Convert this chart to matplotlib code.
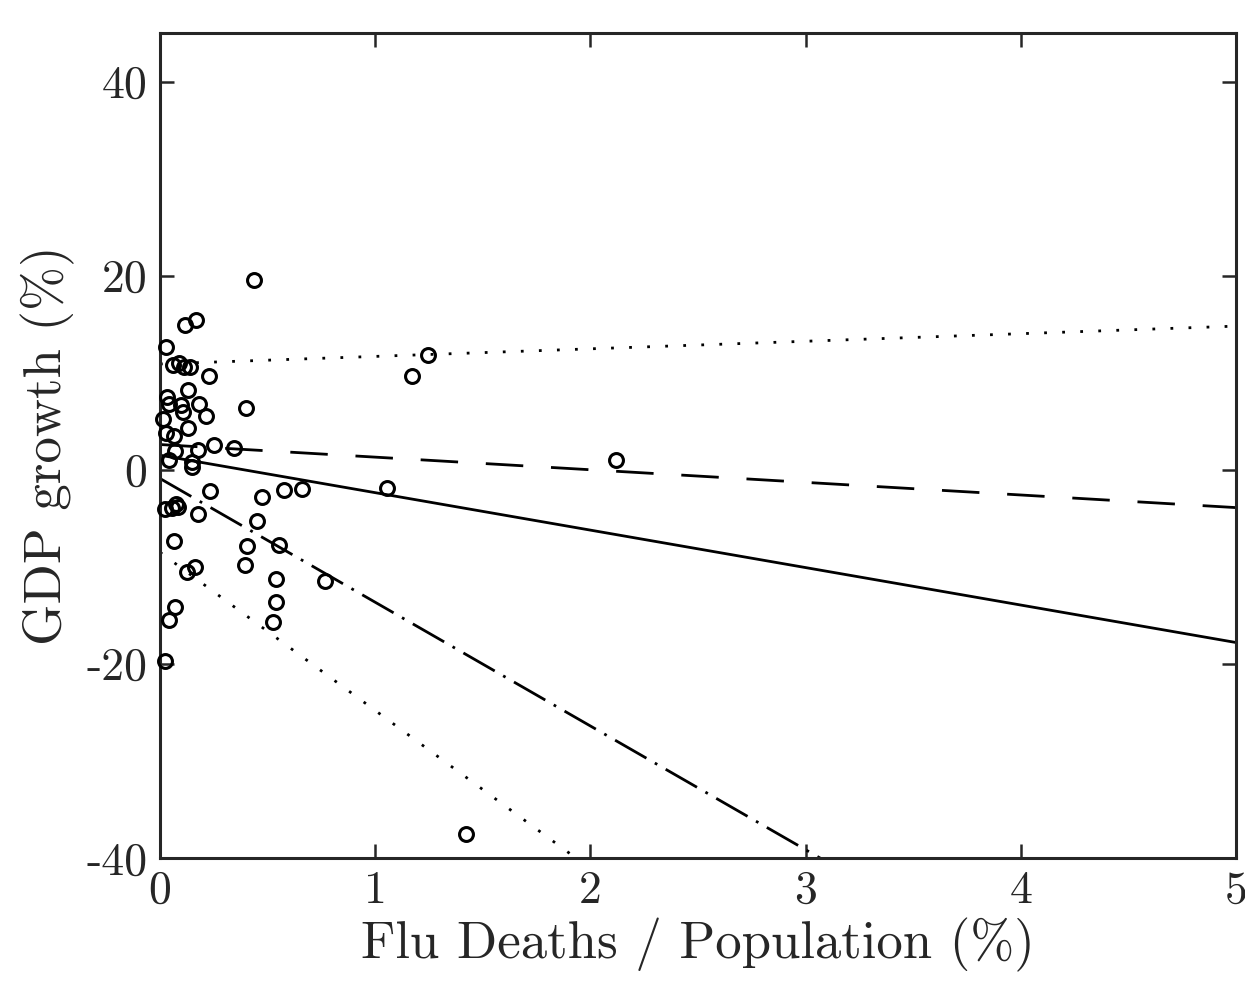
#!/usr/bin/env python

# Scatter of GDP growth against flu deaths with fitted lines

import numpy
import matplotlib
matplotlib.use('Agg')
import matplotlib.pyplot as plt

# Observations: flu deaths / population (%) and GDP growth (%)
deaths=[0.437,0.116,0.167,0.028,0.06,0.09,0.11,0.14,0.228,1.17,1.245,
        0.13,0.033,0.042,0.098,0.181,0.40,0.107,0.014,0.214,0.13,0.028,
        0.065,0.251,0.344,0.177,0.07,0.042,0.149,0.149,0.232,0.474,0.576,
        0.66,0.023,0.055,0.075,0.085,0.177,0.45,0.065,0.404,0.553,0.395,
        0.125,0.163,0.767,0.539,0.539,0.525,0.07,0.042,0.023,1.055,2.12,
        1.422]
growth=[19.5,14.9,15.4,12.6,10.8,11.0,10.6,10.6,9.7,9.7,11.8,
        8.2,7.5,6.8,6.7,6.8,6.4,6.0,5.2,5.5,4.3,3.8,
        3.5,2.5,2.2,2.0,1.9,1.0,0.8,0.3,-2.2,-2.8,-2.1,
        -2.0,-4.0,-3.9,-3.5,-3.8,-4.6,-5.3,-7.3,-7.9,-7.8,-9.8,
        -10.5,-10.0,-11.5,-11.3,-13.6,-15.7,-14.1,-15.5,-19.7,-1.9,1.0,
        -37.5]

# Fitted lines: (intercept, slope)
fit_solid=(1.5,-3.86)
fit_dashed=(2.6,-1.3)
fit_dotted_upper=(10.9,0.78)
fit_dashdot=(-0.9,-12.75)
fit_dotted_lower=(-8.5,-16.3)

xticks=[0,1,2,3,4,5]
yticks=[-40,-20,0,20,40]
ytick_labels=['-40','-20','0','20','40']

matplotlib.rcParams['font.family']='cmr10'
matplotlib.rcParams['axes.unicode_minus']=False
matplotlib.rcParams['lines.scale_dashes']=False

fig=plt.figure(figsize=(12.45,9.88),dpi=100,facecolor='white')
ax=fig.add_axes([0.1285,0.1316,0.8643,0.835])

xx=numpy.array([0.0,5.0])
def line(fit):
    return fit[0]+fit[1]*xx

lw=2.0
ax.plot(xx,line(fit_solid),color='black',linewidth=lw,linestyle='-')
ax.plot(xx,line(fit_dashed),color='black',linewidth=lw,
        linestyle=(0,(27,20)))
ax.plot(xx,line(fit_dotted_upper),color='black',linewidth=lw,
        linestyle=(0,(2,11)))
ax.plot(xx,line(fit_dashdot),color='black',linewidth=lw,
        linestyle=(0,(26,7,2,7)))
ax.plot(xx,line(fit_dotted_lower),color='black',linewidth=lw,
        linestyle=(0,(2,11)))

ax.plot(deaths,growth,linestyle='none',marker='o',markersize=10,
        markerfacecolor='none',markeredgecolor='black',markeredgewidth=2.2,
        clip_on=False,zorder=5)

ax.set_xlim(0,5)
ax.set_ylim(-40,45)
ax.set_xticks(xticks)
ax.set_yticks(yticks)
ax.set_yticklabels(ytick_labels)
ax.tick_params(direction='in',length=10,width=1.8,color='#262626',
               top=True,right=True,labelsize=33,labelcolor='#262626',pad=9)
for s in ax.spines.values():
    s.set_linewidth(2.2)
    s.set_color('#262626')

ax.set_xlabel('Flu Deaths / Population (%)',fontsize=38,color='#262626',
              labelpad=4)
ax.set_ylabel('GDP growth (%)',fontsize=38,color='#262626',labelpad=8)

fig.savefig('out.png')
